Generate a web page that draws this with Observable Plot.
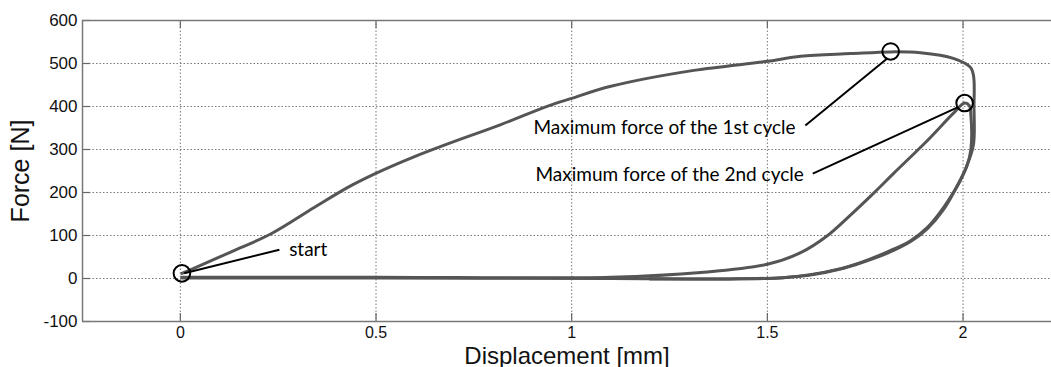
<!DOCTYPE html>
<html><head><meta charset="utf-8">
<script src="https://cdn.jsdelivr.net/npm/d3@7"></script>
<script src="https://cdn.jsdelivr.net/npm/@observablehq/plot@0.6"></script>
<style>
html,body{margin:0;padding:0;background:#fff;}
#chart svg{display:block;overflow:visible;}
g[aria-label="x-axis label"] text{font-size:24px;}
g[aria-label="y-axis label"] text{font-size:25px;}
g[aria-label="x-axis tick label"] text{font-size:16px;}
</style></head><body><div id="chart"></div>
<script>
const xDomain = [-0.25, 2.226];
const yDomain = [-100, 600];
const xTicks = [0, 0.5, 1, 1.5, 2];
const yTicks = [-100, 0, 100, 200, 300, 400, 500, 600];

// cycle 1: loading, unloading
const cycle1X = [0.004, 0.03, 0.13, 0.232, 0.342, 0.428, 0.498, 0.597, 0.683, 0.819, 0.939, 1.0, 1.1, 1.312, 1.5, 1.585, 1.713, 1.815, 1.891, 1.975, 2.019, 2.027, 2.028, 2.027, 2.015, 1.993, 1.95, 1.909, 1.866, 1.807, 1.738, 1.687, 1.61, 1.54, 1.4, 1.1, 0.5, 0.004];
const cycle1Y = [12, 22, 62, 104, 165, 212, 244, 283, 313, 358, 401, 419, 447, 484, 505, 517, 523, 527, 525, 512, 491, 470, 400, 314, 275, 228, 165, 119, 88, 62, 37, 23, 9, 2, -1, 0, 1, 1];
// cycle 2: loading, unloading
const cycle2X = [0.004, 0.5, 1.1, 1.33, 1.5, 1.585, 1.654, 1.713, 1.771, 1.822, 1.909, 1.975, 2.004, 2.016, 2.02, 2.02, 2.01, 1.99, 1.95, 1.909, 1.866, 1.807, 1.738, 1.687, 1.61, 1.54, 1.4, 1.2];
const cycle2Y = [3, 3, 3, 14, 33, 60, 100, 148, 198, 244, 321, 384, 408, 402, 380, 300, 262, 224, 160, 116, 86, 59, 36, 22, 8, 2, -1, -1];

const markerX = [0.004, 1.815, 2.004];
const markerY = [12, 528, 408];
const leaderX1 = [0.01, 1.597, 1.616];
const leaderY1 = [12, 356, 244];
const leaderX2 = [0.253, 1.807, 1.986];
const leaderY2 = [67, 512, 398];
const labelText = ["start", "Maximum force of the 1st cycle", "Maximum force of the 2nd cycle"];
const labelX = [0.278, 1.572, 1.593];
const labelY = [67, 351, 240];

const W = 1051, H = 367, mL = 82, mT = 20, mB = 46, mR = 0;
const plotH = H - mT - mB, plotW = W - mL - mR;

const c1 = cycle1X.map((x, i) => ({x, y: cycle1Y[i]}));
const c2 = cycle2X.map((x, i) => ({x, y: cycle2Y[i]}));
const markers = markerX.map((x, i) => ({x, y: markerY[i]}));
const leaders = leaderX1.map((x, i) => ({x1: x, y1: leaderY1[i], x2: leaderX2[i], y2: leaderY2[i]}));
const labels = labelText.map((t, i) => ({t, x: labelX[i], y: labelY[i], anchor: i === 0 ? "start" : "end"}));

const chart = Plot.plot({
  width: W, height: H,
  marginLeft: mL, marginTop: mT, marginBottom: mB, marginRight: mR,
  style: {fontSize: "17px", fontFamily: "'Liberation Sans', Arial, sans-serif", color: "#111", background: "#fff"},
  x: {domain: xDomain, ticks: xTicks, tickFormat: d => String(d), tickSize: 0, tickPadding: 5,
      label: "Displacement [mm]", labelArrow: "none", labelAnchor: "center", labelOffset: 42, line: false},
  y: {domain: yDomain, ticks: yTicks, tickFormat: d => String(d), tickSize: 0, tickPadding: 5,
      label: "Force [N]", labelArrow: "none", labelAnchor: "center", labelOffset: 71},
  marks: [
    Plot.ruleX(xTicks, {x: d => d, stroke: "#777", strokeWidth: 1, strokeDasharray: "1.5,2"}),
    Plot.ruleY(yTicks.slice(1, -1), {y: d => d, stroke: "#777", strokeWidth: 1, strokeDasharray: "1.5,2"}),
    Plot.tickX(xTicks, {x: d => d, insetTop: plotH - 8, stroke: "#666", strokeWidth: 1.2}),
    Plot.tickX(xTicks, {x: d => d, insetBottom: plotH - 8, stroke: "#666", strokeWidth: 1.2}),
    Plot.tickY(yTicks, {y: d => d, insetRight: plotW - 8, stroke: "#666", strokeWidth: 1.2}),
    Plot.ruleY([yDomain[0], yDomain[1]], {y: d => d, stroke: "#777", strokeWidth: 1.5}),
    Plot.ruleX([xDomain[0]], {x: d => d, stroke: "#777", strokeWidth: 1.5}),
    Plot.line(c1, {x: "x", y: "y", stroke: "#555", strokeWidth: 3, curve: "catmull-rom"}),
    Plot.line(c2, {x: "x", y: "y", stroke: "#555", strokeWidth: 3, curve: "catmull-rom"}),
    Plot.link(leaders, {x1: "x1", y1: "y1", x2: "x2", y2: "y2", stroke: "#000", strokeWidth: 2}),
    Plot.dot(markers, {x: "x", y: "y", r: 8.3, stroke: "#000", strokeWidth: 2, fill: "none"}),
    Plot.text(labels.filter(d => d.anchor === "start"), {x: "x", y: "y", text: "t", textAnchor: "start", fontSize: 19, fontFamily: "Lato, 'Open Sans', sans-serif", fill: "#000"}),
    Plot.text(labels.filter(d => d.anchor === "end"), {x: "x", y: "y", text: "t", textAnchor: "end", fontSize: 19, fontFamily: "Lato, 'Open Sans', sans-serif", fill: "#000"})
  ]
});
document.getElementById("chart").appendChild(chart);
</script></body></html>
